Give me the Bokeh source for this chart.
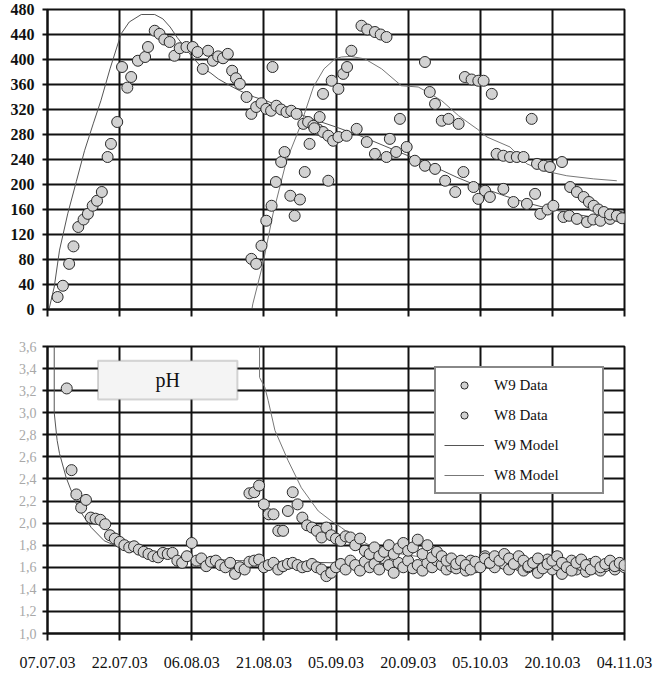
from bokeh.plotting import figure
from bokeh.layouts import column
from bokeh.models import (FixedTicker, Legend, LegendItem, BoxAnnotation, Label,
                          Range1d, CustomJSTickFormatter)
from bokeh.embed import file_html
from bokeh.resources import INLINE

# x = days since 07.07.03
date_ticks = [0, 15, 30, 45, 60, 75, 90, 105, 120]
date_labels = ["07.07.03", "22.07.03", "06.08.03", "21.08.03", "05.09.03",
               "20.09.03", "05.10.03", "20.10.03", "04.11.03"]
conc_ticks = [0, 40, 80, 120, 160, 200, 240, 280, 320, 360, 400, 440, 480]
ph_ticks = [1.0, 1.2, 1.4, 1.6, 1.8, 2.0, 2.2, 2.4, 2.6, 2.8, 3.0, 3.2, 3.4, 3.6]

# ---- top panel: data ----
w9_day = [2.1, 3.2, 4.5, 5.4, 6.4, 7.5, 8.4, 9.4, 10.3, 11.3, 12.5, 13.2, 14.5, 15.5,
          16.6, 17.4, 18.8, 20.3, 20.9, 22.3, 23.3, 24.3, 25.4, 26.4, 27.5, 28.9, 30.2,
          31.2, 32.3, 33.4, 34.4, 35.5, 36.5, 37.5, 38.4, 39.2, 40.0, 41.4, 42.4, 43.4,
          44.5, 45.5, 46.5, 46.8, 47.6, 48.6, 49.7, 50.7, 51.8, 53.2, 54.2, 55.3, 56.3,
          57.3, 58.4, 59.4, 60.5, 62.2, 64.3, 66.4, 68.1, 70.5, 71.2, 72.5, 74.7, 76.4,
          78.5, 80.6, 82.7, 84.8, 86.5, 88.6, 89.6, 91.0, 92.0, 94.8, 96.9, 99.7, 101.4,
          102.5, 104.0, 105.2, 107.3, 108.5, 110.1, 112.2, 113.5, 115.0, 117.0, 119.1]
w9_val = [20, 38, 73, 101, 132, 144, 153, 166, 174, 188, 244, 265, 300, 388,
          355, 372, 398, 404, 420, 446, 441, 432, 428, 406, 418, 420, 420,
          412, 385, 414, 398, 405, 402, 409, 382, 370, 361, 340, 313, 324,
          330, 321, 318, 388, 326, 320, 316, 318, 313, 297, 300, 294, 288,
          284, 278, 270, 276, 278, 289, 268, 249, 244, 273, 252, 260, 238,
          230, 225, 206, 188, 220, 196, 177, 190, 180, 193, 172, 169, 185,
          153, 160, 166, 148, 150, 145, 140, 144, 142, 145, 148]

ws_day = [42.4, 43.4, 44.5, 45.5, 46.6, 47.5, 48.6, 49.3, 50.5, 51.4, 52.5, 53.5, 54.5,
          55.5, 56.6, 57.3, 58.4, 59.1, 60.5, 61.5, 62.3, 63.2, 65.3, 66.5, 68.1, 69.3,
          70.5, 73.3, 78.5, 79.5, 80.6, 82.0, 83.4, 85.5, 86.8, 88.2, 89.6, 90.7, 92.4,
          93.4, 94.8, 96.2, 97.6, 99.0, 100.7, 101.8, 103.2, 104.5, 107.0, 108.7, 110.1,
          111.5, 112.6, 113.6, 114.6, 115.7, 117.0, 118.4, 119.5]
ws_val = [81, 73, 102, 142, 166, 204, 236, 252, 182, 150, 176, 220, 265,
          290, 308, 345, 206, 366, 353, 377, 388, 414, 454, 448, 444, 440,
          436, 305, 396, 348, 329, 302, 305, 297, 372, 368, 366, 366, 345,
          249, 246, 244, 244, 244, 305, 233, 230, 228, 236, 196, 188,
          180, 172, 166, 160, 156, 152, 150, 146]

# ---- top panel: models ----
w9m_day = [0.3, 1.4, 2.5, 4.2, 6.0, 7.7, 9.5, 11.1, 13.0, 15.3, 17.0, 19.5, 22.3, 24.0,
           25.5, 27.0, 28.0, 30.0, 32.0, 34.0, 35.5, 38.0, 40.0, 43.0, 45.5, 50.0, 55.0,
           60.0, 65.0, 70.0, 75.0, 80.0, 85.0, 90.0, 95.0, 100.0, 105.0, 110.0, 115.0, 120.0]
w9m_val = [0, 36, 95, 153, 205, 254, 297, 334, 385, 441, 460, 472, 472, 465,
           452, 435, 425, 405, 388, 378, 369, 358, 350, 340, 334, 320, 305,
           292, 278, 262, 246, 230, 212, 196, 182, 170, 160, 152, 146, 140]
wsm_day = [42.5, 42.7, 44.8, 46.9, 49.7, 52.5, 55.3, 57.5, 59.8, 61.1, 63.0, 66.0, 69.5,
           73.6, 77.1, 79.0, 82.0, 85.5, 89.5, 91.4, 96.2, 99.7, 103.2, 108.0, 113.6, 118.4]
wsm_val = [0, 9, 73, 153, 238, 292, 356, 385, 401, 404, 405, 401, 385,
           358, 356, 348, 334, 310, 288, 276, 260, 233, 222, 214, 209, 206]

# ---- bottom panel: pH data ----
w9ph_day = [4, 5, 6, 7, 8, 9, 10, 11, 12, 13, 14, 15, 16, 17, 18, 19, 20, 21, 22, 23, 24,
            25, 26, 27, 28, 29, 30, 31, 32, 33, 34, 35, 36, 37, 38, 39, 40, 41, 42, 43,
            44, 45, 46, 47, 48, 49, 50, 51, 52, 53, 54, 55, 56, 57, 58, 59, 60, 61, 62,
            63, 64, 65, 66, 67, 68, 69, 70, 71, 72, 73, 74, 75, 76, 77, 78, 79, 80, 81,
            82, 83, 84, 85, 86, 87, 88, 89, 90, 91, 92, 93, 94, 95, 96, 97, 98, 99, 100,
            101, 102, 103, 104, 105, 106, 107, 108, 109, 110, 111, 112, 113, 114, 115,
            116, 117, 118, 119, 120]
w9ph_val = [3.22, 2.48, 2.26, 2.14, 2.21, 2.05, 2.04, 2.03, 1.99, 1.89, 1.86, 1.83, 1.80,
            1.78, 1.79, 1.76, 1.74, 1.72, 1.70, 1.69, 1.73, 1.72, 1.73, 1.66, 1.64, 1.70,
            1.82, 1.66, 1.68, 1.61, 1.65, 1.66, 1.62, 1.60, 1.64, 1.54, 1.60, 1.58, 1.65,
            1.66, 1.67, 1.60, 1.62, 1.64, 1.58, 1.61, 1.63, 1.64, 1.62, 1.60, 1.61, 1.63,
            1.60, 1.58, 1.52, 1.55, 1.60, 1.63, 1.58, 1.66, 1.62, 1.57, 1.65, 1.60, 1.63,
            1.58, 1.68, 1.62, 1.55, 1.64, 1.60, 1.66, 1.59, 1.62, 1.57, 1.64, 1.60, 1.66,
            1.62, 1.58, 1.61, 1.59, 1.64, 1.57, 1.66, 1.60, 1.63, 1.70, 1.65, 1.60, 1.67,
            1.63, 1.58, 1.66, 1.62, 1.57, 1.60, 1.64, 1.55, 1.61, 1.67, 1.58, 1.62, 1.54,
            1.60, 1.66, 1.58, 1.62, 1.56, 1.63, 1.59, 1.57, 1.61, 1.64, 1.58, 1.62, 1.60]
wsph_day = [42, 43, 44, 45, 46, 47, 48, 49, 50, 51, 52, 53, 54, 55, 56, 57, 58, 59, 60,
            61, 62, 63, 64, 65, 66, 67, 68, 69, 70, 71, 72, 73, 74, 75, 76, 77, 78, 79,
            80, 81, 82, 83, 84, 85, 86, 87, 88, 89, 90, 91, 92, 93, 94, 95, 96, 97, 98,
            99, 100, 101, 102, 103, 104, 105, 106, 107, 108, 109, 110, 111, 112, 113,
            114, 115, 116, 117, 118, 119, 120]
wsph_val = [2.27, 2.28, 2.34, 2.17, 2.08, 2.08, 1.93, 1.93, 2.11, 2.28, 2.17, 2.05, 1.98,
            1.96, 1.93, 1.87, 1.96, 1.89, 1.86, 1.84, 1.88, 1.87, 1.80, 1.86, 1.75, 1.72,
            1.78, 1.70, 1.74, 1.80, 1.72, 1.77, 1.82, 1.75, 1.78, 1.85, 1.72, 1.80, 1.69,
            1.74, 1.70, 1.66, 1.68, 1.63, 1.66, 1.62, 1.58, 1.65, 1.60, 1.68, 1.64, 1.70,
            1.66, 1.72, 1.68, 1.63, 1.70, 1.66, 1.61, 1.64, 1.68, 1.59, 1.63, 1.66, 1.70,
            1.64, 1.60, 1.57, 1.64, 1.67, 1.62, 1.58, 1.65, 1.60, 1.63, 1.66, 1.61, 1.64,
            1.62]

# ---- bottom panel: pH models ----
w9phm_day = [1.4, 1.4, 2.0, 2.5, 3.9, 6.3, 9.1, 11.8, 15, 20, 25, 30, 40, 50, 60, 70,
             80, 90, 100, 110, 122]
w9phm_val = [3.7, 3.0, 2.75, 2.63, 2.41, 2.14, 1.96, 1.84, 1.78, 1.73, 1.70, 1.68, 1.66,
             1.65, 1.64, 1.63, 1.62, 1.61, 1.60, 1.60, 1.59]
wsphm_day = [44.1, 44.1, 45.2, 45.9, 47.3, 50, 52.8, 56.3, 59, 61.1, 63.9, 67, 70, 75, 80,
             90, 100, 110, 120]
wsphm_val = [3.7, 3.32, 3.23, 3.11, 2.84, 2.57, 2.32, 2.11, 2.02, 1.96, 1.87, 1.80, 1.75,
             1.71, 1.68, 1.65, 1.63, 1.62, 1.61]

FONT = "Liberation Serif"
GRID = "#111111"
MFILL = "#d2d2d2"
MLINE = "#2a2a2a"

x_fmt = CustomJSTickFormatter(args=dict(labels=date_labels),
                              code="return labels[Math.round(tick / 15)];")
blank_fmt = CustomJSTickFormatter(code="return '';")
ph_fmt = CustomJSTickFormatter(code="return tick.toFixed(1).replace('.', ',');")


def style(p, yticks):
    p.background_fill_color = "white"
    p.border_fill_color = "white"
    p.outline_line_color = GRID
    p.outline_line_width = 2
    p.xaxis.ticker = FixedTicker(ticks=date_ticks)
    p.yaxis.ticker = FixedTicker(ticks=yticks)
    p.xgrid.ticker = FixedTicker(ticks=date_ticks)
    p.ygrid.ticker = FixedTicker(ticks=yticks)
    for g in (p.xgrid, p.ygrid):
        g.grid_line_color = GRID
        g.grid_line_width = 2
    for ax in (p.xaxis, p.yaxis):
        ax.axis_line_color = GRID
        ax.axis_line_width = 2
        ax.major_tick_line_color = GRID
        ax.major_tick_line_width = 2
        ax.major_tick_in = 0
        ax.minor_tick_line_color = None
        ax.major_label_text_font = FONT
    p.xaxis.major_tick_out = 7
    p.yaxis.major_tick_out = 5


# ---------------- top figure ----------------
p1 = figure(width=654, height=330, x_range=Range1d(0, 120), y_range=Range1d(0, 480),
            output_backend="svg", toolbar_location=None,
            min_border_left=47, min_border_right=30, min_border_top=9, min_border_bottom=21)
style(p1, conc_ticks)
p1.xaxis.formatter = blank_fmt
p1.xaxis.major_label_standoff = 0
p1.xaxis.major_label_text_font_size = "1px"
p1.yaxis.major_label_text_font_size = "16px"
p1.yaxis.major_label_text_font_style = "bold"
p1.yaxis.major_label_text_color = "#111111"
p1.yaxis.major_label_standoff = 8

p1.line(w9m_day, w9m_val, line_color="#555555", line_width=1)
p1.line(wsm_day, wsm_val, line_color="#777777", line_width=1)
p1.scatter(w9_day, w9_val, size=11, fill_color=MFILL, line_color=MLINE, line_width=1)
p1.scatter(ws_day, ws_val, size=11, fill_color=MFILL, line_color=MLINE, line_width=1)

# ---------------- bottom figure ----------------
p2 = figure(width=654, height=348, x_range=Range1d(0, 120), y_range=Range1d(1.0, 3.6),
            output_backend="svg", toolbar_location=None,
            min_border_left=47, min_border_right=30, min_border_top=16, min_border_bottom=45)
style(p2, ph_ticks)
p2.xaxis.formatter = x_fmt
p2.xaxis.major_label_text_font_size = "16px"
p2.xaxis.major_label_text_color = "#111111"
p2.xaxis.major_label_standoff = 16
p2.yaxis.formatter = ph_fmt
p2.yaxis.major_label_text_font_size = "14px"
p2.yaxis.major_label_text_color = "#a8a8a8"
p2.yaxis.major_label_standoff = 6

r_w9m = p2.line(w9phm_day, w9phm_val, line_color="#555555", line_width=1)
r_wsm = p2.line(wsphm_day, wsphm_val, line_color="#777777", line_width=1)
r_w9 = p2.scatter(w9ph_day, w9ph_val, size=11, fill_color=MFILL, line_color=MLINE, line_width=1)
r_ws = p2.scatter(wsph_day, wsph_val, size=11, fill_color=MFILL, line_color=MLINE, line_width=1)

box = BoxAnnotation(left=10.5, right=39.5, bottom=3.12, top=3.47,
                    fill_color="#f4f4f4", fill_alpha=1.0,
                    line_color="#777777", line_width=2)
p2.add_layout(box)
p2.add_layout(Label(x=25, y=3.295, text="pH", text_font=FONT, text_font_size="20px",
                    text_align="center", text_baseline="middle", text_color="#111111"))

legend = Legend(items=[
    LegendItem(label="W9 Data", renderers=[r_w9]),
    LegendItem(label="W8 Data", renderers=[r_ws]),
    LegendItem(label="W9 Model", renderers=[r_w9m]),
    LegendItem(label="W8 Model", renderers=[r_wsm]),
], location="top_right", margin=20, padding=8, spacing=12,
    glyph_width=40, glyph_height=18, label_height=18, label_width=100,
    label_standoff=10, label_text_font=FONT, label_text_font_size="15px",
    label_text_color="#111111", border_line_color=GRID, border_line_width=2,
    background_fill_color="white", background_fill_alpha=1.0)
p2.add_layout(legend)

layout = column(p1, p2, spacing=0)
open("out.html", "w").write(file_html(layout, INLINE))
